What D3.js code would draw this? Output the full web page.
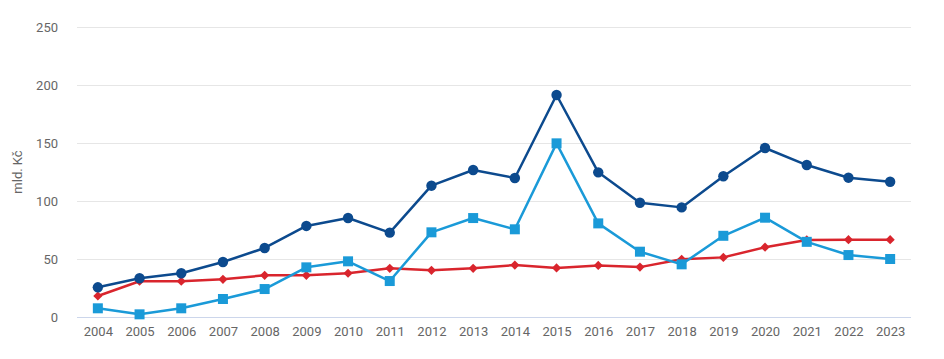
<!DOCTYPE html>
<html><head><meta charset="utf-8">
<script src="https://cdn.jsdelivr.net/npm/d3@7"></script>
<style>body{margin:0;background:#fff}svg{display:block}</style>
</head><body>
<svg id="c" width="944" height="359"></svg>
<script>
const years = ["2004","2005","2006","2007","2008","2009","2010","2011","2012","2013","2014","2015","2016","2017","2018","2019","2020","2021","2022","2023"];
const seriesDark = [25.6,33.4,37.7,47.4,59.5,78.5,85.3,72.7,113.2,126.7,119.8,191.4,124.7,98.5,94.5,121.3,145.7,131,120.1,116.6];
const seriesLight = [7.5,2.3,7.5,15.5,24.1,42.8,48,31,73,85.3,75.6,149.7,80.7,56.3,45.4,70,85.6,64.8,53.4,50];
const seriesRed = [18.1,30.8,30.8,32.5,35.9,35.9,37.7,42,40.2,42,44.8,42.3,44.5,43,49.8,51.4,60.2,66.4,66.7,66.7];
const yTicks = [0,50,100,150,200,250];
const yTitle = "mld. Kč";

const svg = d3.select("#c");
const pL = 77, pR = 911, pT = 27, pB = 317;
const x = d3.scalePoint().domain(years).range([pL, pR]).padding(0.5);
const y = d3.scaleLinear().domain([0,250]).range([pB, pT]);

// gridlines
svg.append("g").selectAll("line").data(yTicks.filter(d=>d>0)).join("line")
  .attr("x1", pL).attr("x2", pR)
  .attr("y1", d=>y(d)+0.5).attr("y2", d=>y(d)+0.5)
  .attr("stroke", "#e6e6e6").attr("stroke-width", 1);
// baseline
svg.append("line").attr("x1", pL).attr("x2", pR)
  .attr("y1", y(0)+0.5).attr("y2", y(0)+0.5)
  .attr("stroke", "#ccd6eb").attr("stroke-width", 1);

// y labels
const yAxis = d3.axisLeft(y).tickValues(yTicks).tickSize(0).tickPadding(0);
const gy = svg.append("g").attr("transform", `translate(58,0)`).call(yAxis);
gy.select(".domain").remove();
gy.selectAll("text").attr("fill", "#666").style("font-family","Roboto, sans-serif").style("font-size","13px");

// x labels
const xAxis = d3.axisBottom(x).tickSize(0).tickPadding(0);
const gx = svg.append("g").attr("transform", `translate(0,${pB+10})`).call(xAxis);
gx.select(".domain").remove();
gx.selectAll("text").attr("fill", "#666").style("font-family","Roboto, sans-serif").style("font-size","13px");

// y title
svg.append("text").attr("transform", `translate(22,${(pT+pB)/2}) rotate(-90)`)
  .attr("text-anchor","middle").attr("fill","#666")
  .style("font-family","Roboto, sans-serif").style("font-size","13px").text(yTitle);

const line = d3.line().x((d,i)=>x(years[i])).y(d=>y(d));

function drawSeries(vals, color, shape){
  const g = svg.append("g");
  g.append("path").datum(vals).attr("d", line).attr("fill","none")
    .attr("stroke", color).attr("stroke-width", 2.5).attr("stroke-linejoin","round");
  const sym = d3.symbol().type(shape === "circle" ? d3.symbolCircle : shape === "square" ? d3.symbolSquare : d3.symbolDiamond2)
    .size(shape === "circle" ? 85 : shape === "square" ? 100 : 54);
  g.selectAll("path.m").data(vals).join("path").attr("class","m")
    .attr("d", sym)
    .attr("transform", (d,i)=>`translate(${x(years[i])},${y(d)})`)
    .attr("fill", color);
}
drawSeries(seriesRed, "#d9252d", "diamond");
drawSeries(seriesDark, "#0c4a8e", "circle");
drawSeries(seriesLight, "#1a9ad8", "square");
</script>
</body></html>
